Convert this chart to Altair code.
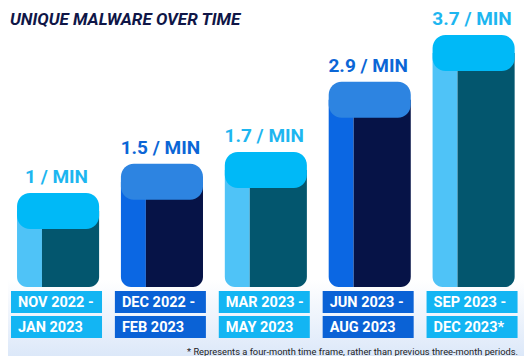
import altair as alt
import pandas as pd

title = "UNIQUE MALWARE OVER TIME"
footnote = "* Represents a four-month time frame, rather than previous three-month periods."
period_start = ["NOV 2022 -", "DEC 2022 -", "MAR 2023 -", "JUN 2023 -", "SEP 2023 -"]
period_end = ["JAN 2023", "FEB 2023", "MAY 2023", "AUG 2023", "DEC 2023*"]
per_minute = [1, 1.5, 1.7, 2.9, 3.7]
value_labels = ["1 / MIN", "1.5 / MIN", "1.7 / MIN", "2.9 / MIN", "3.7 / MIN"]

df = pd.DataFrame({
    "i": list(range(len(per_minute))),
    "start": period_start,
    "end": period_end,
    "v": per_minute,
    "lab": value_labels,
})

base = alt.Chart(df).transform_calculate(
    c_left="datum.i % 2 == 0 ? '#4FC3F7' : '#0B67E3'",
    c_right="datum.i % 2 == 0 ? '#03566E' : '#061347'",
    c_top="datum.i % 2 == 0 ? '#00B9F7' : '#2D84E1'",
    c_lab="datum.i % 2 == 0 ? '#1DB6F0' : '#0B66D6'",
    c_box="datum.i % 2 == 0 ? '#13B5F3' : '#0A62D6'",
    l="datum.i - 0.38",
    m="datum.i - 0.14",
    r="datum.i + 0.41",
    bl="datum.i - 0.438",
    br="datum.i + 0.438",
)

xs = alt.Scale(domain=[-0.467, 4.5], nice=False, zero=False)
ys = alt.Scale(domain=[-1.786, 4.162], nice=False, zero=False)
BASE_V = -0.607


def X(f):
    return alt.X(f, type="quantitative", scale=xs, axis=None)


Y = alt.Y("v:Q", scale=ys, axis=None)

bg = alt.Chart(pd.DataFrame({"a": [0]})).mark_rect(
    color=alt.Gradient(
        gradient="linear",
        stops=[alt.GradientStop(color="#FFFFFF", offset=0),
               alt.GradientStop(color="#DCE8F9", offset=1)],
        x1=0, x2=0, y1=0, y2=1,
    )
).encode(x=alt.value(-8), x2=alt.value(524), y=alt.value(272), y2=alt.value(348))

left_face = base.mark_bar(yOffset=18, cornerRadiusBottomLeft=10).encode(
    x=X("l:Q"), x2="m:Q", y=Y, y2=alt.datum(BASE_V),
    color=alt.Color("c_left:N", scale=None),
)
right_face = base.mark_bar(yOffset=18, cornerRadiusBottomRight=10).encode(
    x=X("m:Q"), x2="r:Q", y=Y, y2=alt.datum(BASE_V),
    color=alt.Color("c_right:N", scale=None),
)
top_face = base.mark_bar(cornerRadius=13, y2Offset=36).encode(
    x=X("l:Q"), x2="r:Q", y=Y, y2="v:Q",
    color=alt.Color("c_top:N", scale=None),
)
value_text = base.mark_text(
    font="Roboto", fontSize=19, fontWeight="bold", baseline="middle", dy=-16
).encode(
    x=X("i:Q"), y=Y, text="lab:N", color=alt.Color("c_lab:N", scale=None)
)

box1 = base.mark_rect().encode(
    x=X("bl:Q"), x2="br:Q", y=alt.value(283), y2=alt.value(305),
    color=alt.Color("c_box:N", scale=None),
)
box2 = base.mark_rect().encode(
    x=X("bl:Q"), x2="br:Q", y=alt.value(308), y2=alt.value(330),
    color=alt.Color("c_box:N", scale=None),
)
txt_style = dict(font="Roboto", fontSize=14.5, fontWeight="bold", color="white",
                 align="left", baseline="middle", dx=7)
text1 = base.mark_text(**txt_style).encode(x=X("bl:Q"), y=alt.value(294.5), text="start:N")
text2 = base.mark_text(**txt_style).encode(x=X("bl:Q"), y=alt.value(319.5), text="end:N")

title_mark = alt.Chart(pd.DataFrame({"t": [title]})).mark_text(
    font="Roboto", fontSize=17, fontWeight="bold", fontStyle="italic",
    color="#0F1647", align="left", baseline="alphabetic"
).encode(x=alt.value(2), y=alt.value(17), text="t:N")

foot_mark = alt.Chart(pd.DataFrame({"t": [footnote]})).mark_text(
    font="Roboto", fontSize=9.3, color="#222222", align="right", baseline="alphabetic"
).encode(x=alt.value(510), y=alt.value(347), text="t:N")

chart = alt.layer(
    bg, left_face, right_face, top_face, value_text,
    box1, box2, text1, text2, title_mark, foot_mark
).properties(
    width=516, height=348, padding=0, autosize="none", background="white"
).configure_view(stroke=None)

chart.save("out.html", embed_options={"renderer": "svg", "actions": False})
